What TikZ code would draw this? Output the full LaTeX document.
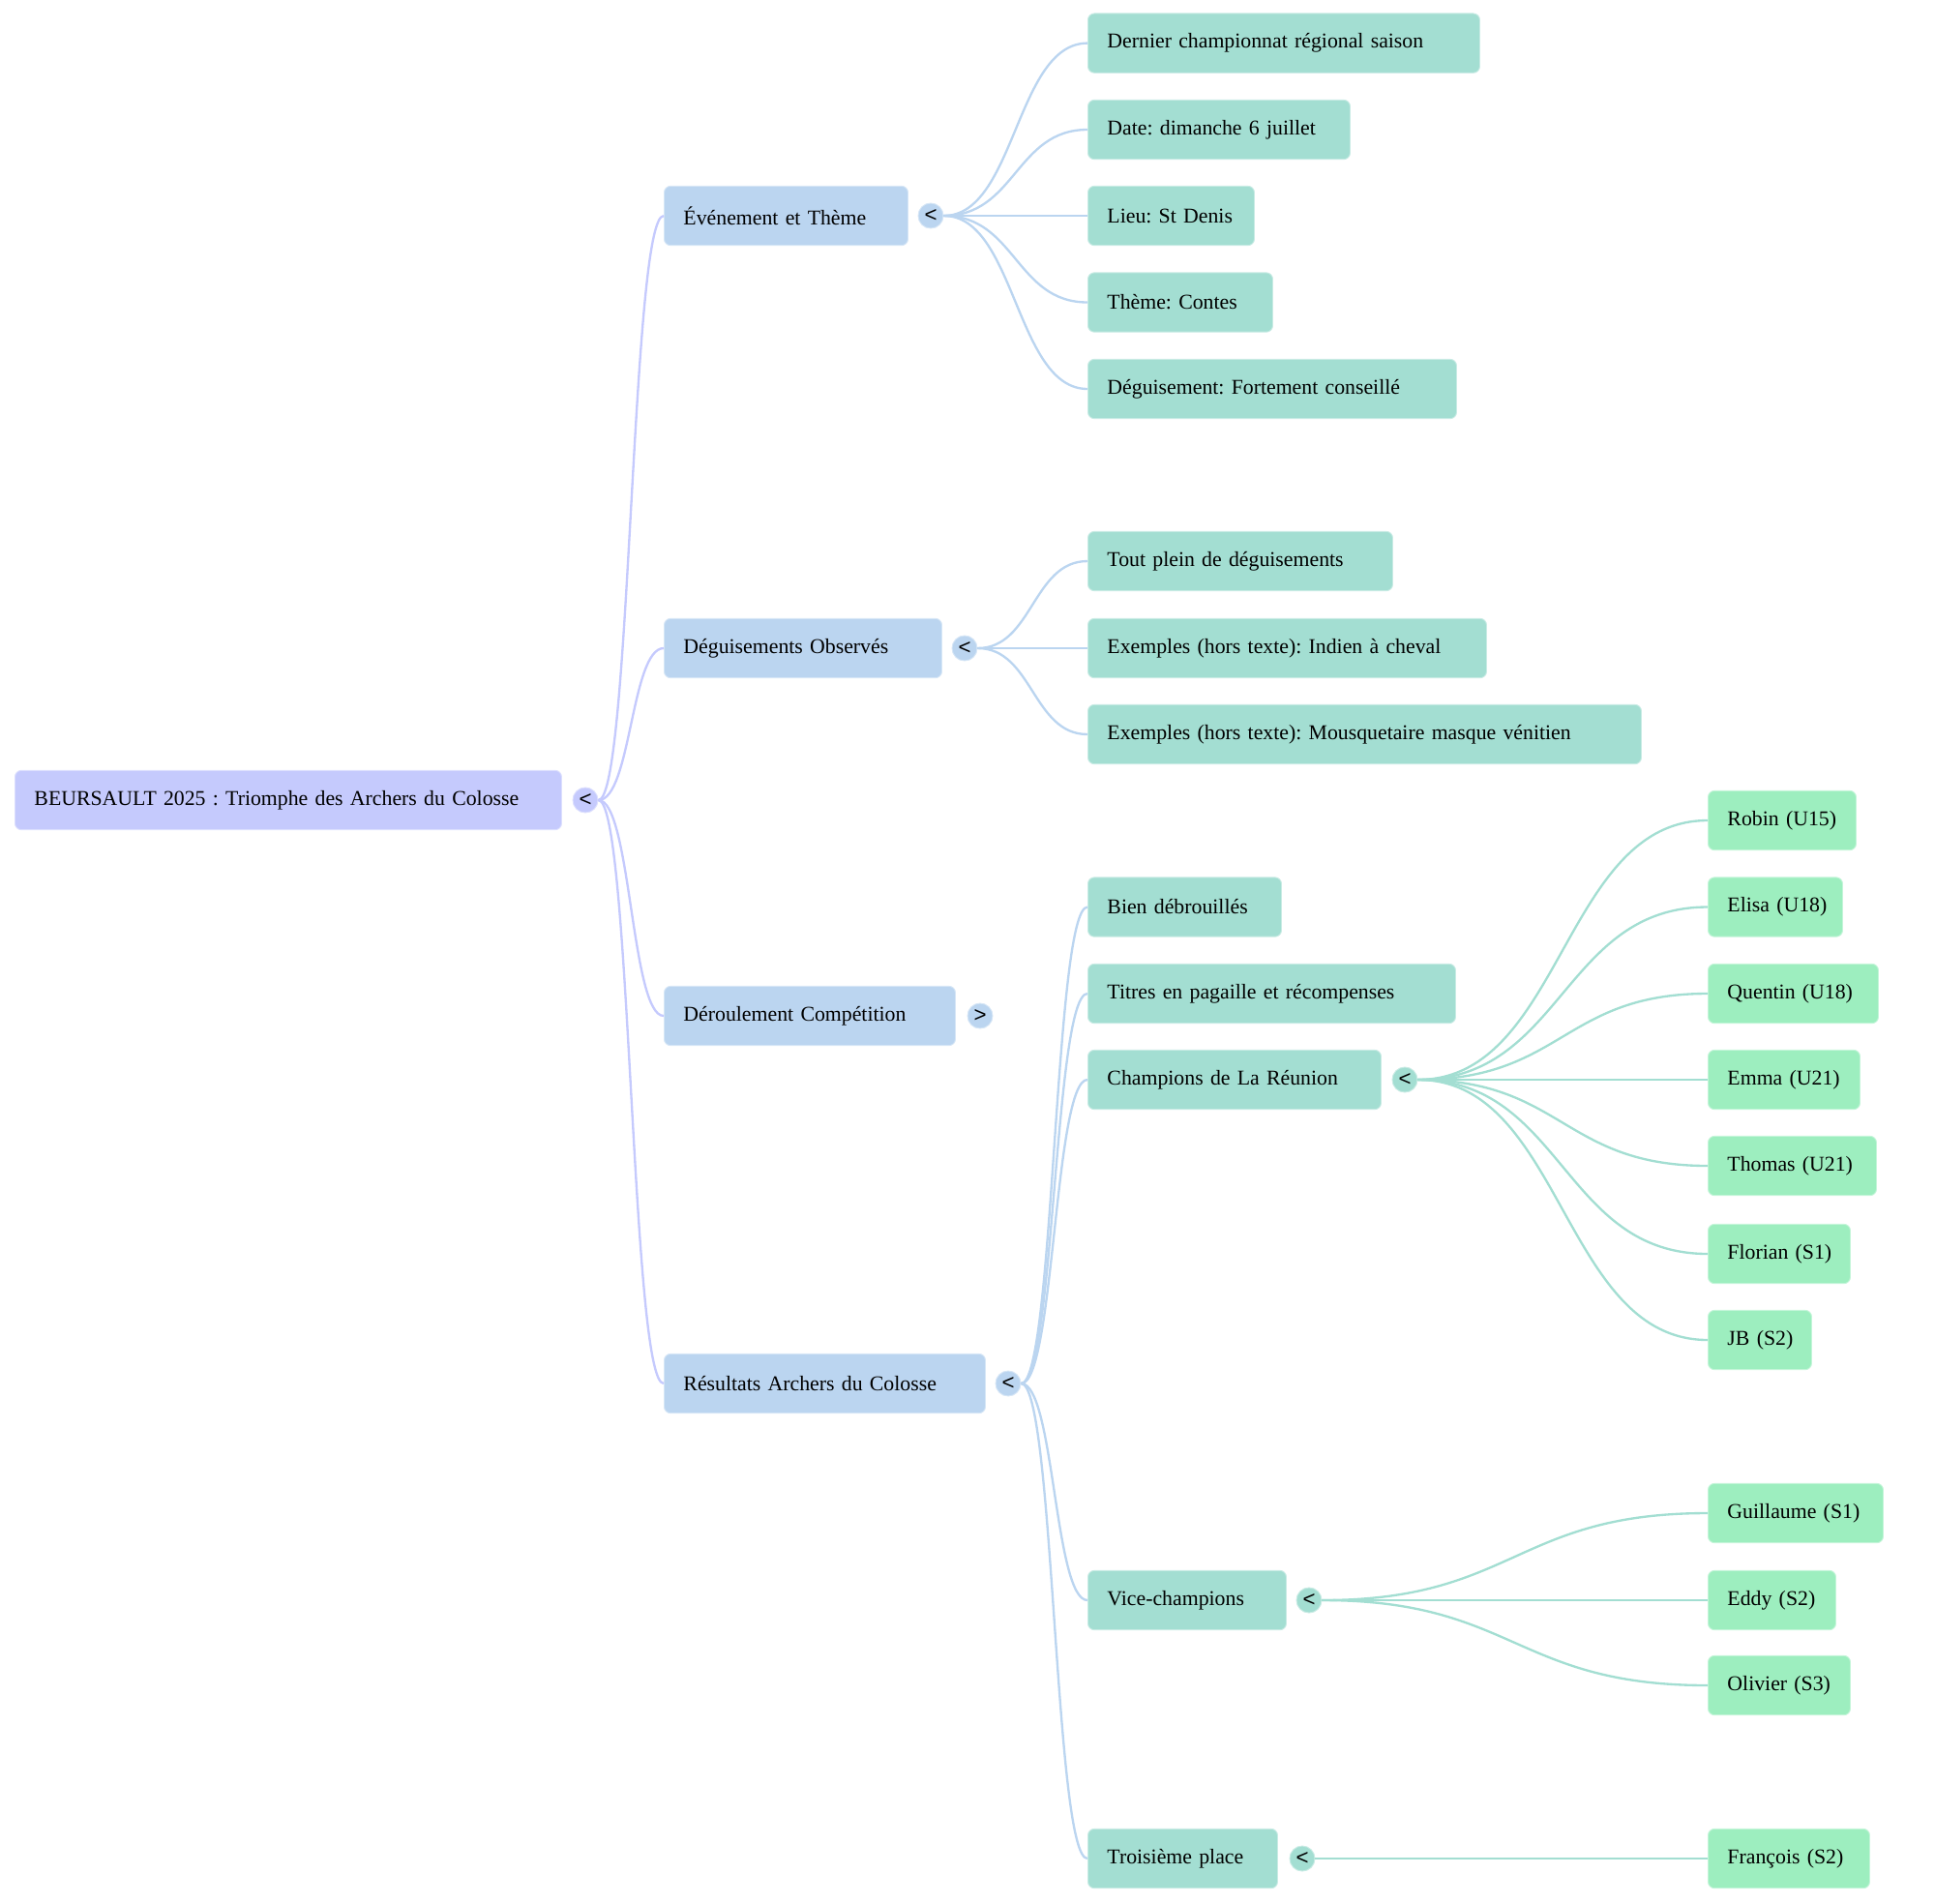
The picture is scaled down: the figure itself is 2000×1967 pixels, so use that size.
\documentclass[tikz,border=0pt]{standalone}
\usepackage{fontspec}
\setmainfont{Liberation Serif}
\setsansfont{Liberation Sans}
\usetikzlibrary{calc}
\frenchspacing

\definecolor{rootfill}{RGB}{197,202,253}
\definecolor{secfill}{RGB}{187,213,240}
\definecolor{topicfill}{RGB}{163,222,210}
\definecolor{namefill}{RGB}{157,238,191}

\tikzset{
  card/.style={rectangle, rounded corners=0.1cm, fill=#1, draw=#1!60!white, line width=0.4pt,
    anchor=west, align=left, inner xsep=0.3cm, inner ysep=0pt, minimum height=0.92cm,
    font=\fontsize{9.3}{11}\selectfont,
    execute at begin node={\hbox\bgroup}, execute at end node={\egroup}},
  boxw/.style={text width=(#1-40)*0.015cm},
  toggle/.style={circle, fill=#1, draw=#1!60!white, line width=0.4pt, inner sep=0pt,
    minimum size=0.39cm, font=\sffamily\fontsize{9.5}{9.5}\selectfont},
  link/.style={to path={.. controls ($(\tikztostart)!0.5!(\tikztotarget |- \tikztostart)$)
      and ($(\tikztotarget)!0.5!(\tikztostart |- \tikztotarget)$) .. (\tikztotarget)}},
}

\begin{document}
\begin{tikzpicture}[x=0.015cm, y=-0.015cm]
  \useasboundingbox (0,0) rectangle (2000,1967);

  \begin{scope}[every node/.style={card=rootfill}]
    \node[boxw=565] (root) at (15,827) {BEURSAULT 2025 : Triomphe des Archers du Colosse};
  \end{scope}

  \begin{scope}[every node/.style={card=secfill}]
    \node[boxw=252] (evt)    at (686,223)  {Événement et Thème};
    \node[boxw=287] (degobs) at (686,670)  {Déguisements Observés};
    \node[boxw=301] (deroul) at (686,1050) {Déroulement Compétition};
    \node[boxw=332] (result) at (686,1430) {Résultats Archers du Colosse};
  \end{scope}

  \begin{scope}[every node/.style={card=topicfill}]
    \node[boxw=405] (dernier) at (1124,44.6) {Dernier championnat régional saison};
    \node[boxw=271] (date)    at (1124,134)  {Date: dimanche 6 juillet};
    \node[boxw=172] (lieu)    at (1124,223)  {Lieu: St Denis};
    \node[boxw=191] (theme)   at (1124,312.5) {Thème: Contes};
    \node[boxw=381] (deguis)  at (1124,402)  {Déguisement: Fortement conseillé};
    \node[boxw=315] (tout)    at (1124,580)  {Tout plein de déguisements};
    \node[boxw=412] (indien)  at (1124,670)  {Exemples (hors texte): Indien à cheval};
    \node[boxw=572] (mousq)   at (1124,759)  {Exemples (hors texte): Mousquetaire masque vénitien};
    \node[boxw=200] (bien)    at (1124,937.5) {Bien débrouillés};
    \node[boxw=380] (titres)  at (1124,1027) {Titres en pagaille et récompenses};
    \node[boxw=303] (champ)   at (1124,1116) {Champions de La Réunion};
    \node[boxw=205] (vice)    at (1124,1654) {Vice-champions};
    \node[boxw=196] (trois)   at (1124,1921) {Troisième place};
  \end{scope}

  \begin{scope}[every node/.style={card=namefill}]
    \node[boxw=153] (robin)     at (1765,848)   {Robin (U15)};
    \node[boxw=139] (elisa)     at (1765,937.5) {Elisa (U18)};
    \node[boxw=176] (quentin)   at (1765,1027)  {Quentin (U18)};
    \node[boxw=157] (emma)      at (1765,1116)  {Emma (U21)};
    \node[boxw=174] (thomas)    at (1765,1205)  {Thomas (U21)};
    \node[boxw=147] (florian)   at (1765,1296)  {Florian (S1)};
    \node[boxw=107] (jb)        at (1765,1385)  {JB (S2)};
    \node[boxw=181] (guillaume) at (1765,1564)  {Guillaume (S1)};
    \node[boxw=132] (eddy)      at (1765,1654)  {Eddy (S2)};
    \node[boxw=147] (olivier)   at (1765,1742)  {Olivier (S3)};
    \node[boxw=167] (francois)  at (1765,1921)  {François (S2)};
  \end{scope}

  % toggles
  \node[toggle=rootfill]  (rootT)    at (605,827)   {<};
  \node[toggle=secfill]   (evtT)     at (962,223)   {<};
  \node[toggle=secfill]   (degobsT)  at (997,670)   {<};
  \node[toggle=secfill]   (deroulT)  at (1013,1050) {>};
  \node[toggle=secfill]   (resultT)  at (1042,1430) {<};
  \node[toggle=topicfill] (champT)   at (1452,1116) {<};
  \node[toggle=topicfill] (viceT)    at (1353,1654) {<};
  \node[toggle=topicfill] (troisT)   at (1346,1921) {<};

  \begin{scope}[every edge/.style={draw, line width=1pt, link}]
    \begin{scope}[rootfill]
      \path (rootT.east) edge (evt.west) edge (degobs.west) edge (deroul.west) edge (result.west);
    \end{scope}
    \begin{scope}[secfill]
      \path (evtT.east) edge (dernier.west) edge (date.west) edge (lieu.west)
        edge (theme.west) edge (deguis.west);
      \path (degobsT.east) edge (tout.west) edge (indien.west) edge (mousq.west);
      \path (resultT.east) edge (bien.west) edge (titres.west) edge (champ.west)
        edge (vice.west) edge (trois.west);
    \end{scope}
    \begin{scope}[topicfill]
      \path (champT.east) edge (robin.west) edge (elisa.west) edge (quentin.west)
        edge (emma.west) edge (thomas.west) edge (florian.west) edge (jb.west);
      \path (viceT.east) edge (guillaume.west) edge (eddy.west) edge (olivier.west);
      \path (troisT.east) edge (francois.west);
    \end{scope}
  \end{scope}

\end{tikzpicture}
\end{document}
